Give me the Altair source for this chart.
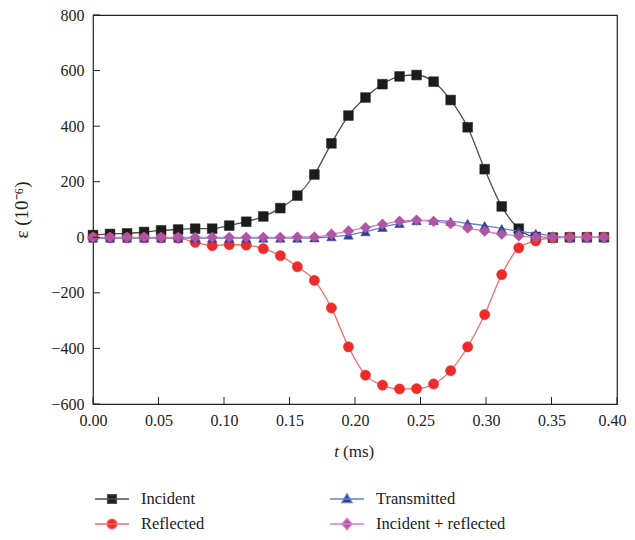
import altair as alt
import pandas as pd

# ---- data ----
t_ms = [0.000, 0.013, 0.026, 0.039, 0.052, 0.065, 0.078, 0.091, 0.104, 0.117,
        0.130, 0.143, 0.156, 0.169, 0.182, 0.195, 0.208, 0.221, 0.234, 0.247,
        0.260, 0.273, 0.286, 0.299, 0.312, 0.325, 0.338, 0.351, 0.364, 0.377, 0.390]

incident = [8, 12, 14, 19, 25, 28, 31, 31, 42, 56,
            75, 105, 150, 226, 338, 438, 503, 551, 579, 584,
            560, 494, 396, 245, 111, 31, 1, -1, 0, 0, 0]

reflected = [-1, -2, -2, -2, -2, -3, -18, -30, -26, -28,
             -41, -66, -106, -155, -254, -394, -496, -532, -546, -545,
             -528, -480, -394, -278, -134, -38, -13, -2, 0, 0, 0]

transmitted = [-3, -3, -3, -3, -3, -3, -3, -3, -3, -3,
               -3, -3, -3, -2, 2, 8, 20, 36, 50, 60,
               61, 57, 50, 42, 31, 22, 14, 5, 0, 0, 0]

inc_plus_ref = [0, 0, 0, 0, 0, 0, 0, 0, 0, 0,
                0, 0, 1, 1, 11, 23, 35, 47, 58, 62,
                57, 49, 33, 22, 11, 5, 0, 0, 0, 0, 0]

series_names = ["Incident", "Reflected", "Transmitted", "Incident + reflected"]
series_values = [incident, reflected, transmitted, inc_plus_ref]
line_colors = ["#4d4d4d", "#f26b6b", "#6a7ec8", "#d67fcc"]
marker_colors = ["#1c1c1c", "#ee2b2b", "#2f3f9c", "#b055a3"]
marker_shapes = ["square", "circle", "triangle-up", "diamond"]
marker_sizes = [95, 105, 90, 115]

y_ticks = [-600, -400, -200, 0, 200, 400, 600, 800]
x_ticks = [0.00, 0.05, 0.10, 0.15, 0.20, 0.25, 0.30, 0.35, 0.40]

# legend layout (order fills row by row, two columns)
legend_order = ["Incident", "Transmitted", "Reflected", "Incident + reflected"]
legend_col = [0, 1, 0, 1]
legend_row = [0, 0, 1, 1]
legend_paths = {
    "Incident": "M-1,0H1M-0.26,-0.26H0.26V0.26H-0.26Z",
    "Reflected": "M-1,0H1M0.29,0A0.29,0.29 0 1,1 -0.29,0A0.29,0.29 0 1,1 0.29,0Z",
    "Transmitted": "M-1,0H1M0,-0.31L0.3,0.21H-0.3Z",
    "Incident + reflected": "M-1,0H1M0,-0.34L0.3,0L0,0.34L-0.3,0Z",
}

FONT = "Liberation Serif"
W, H = 524, 389

x_enc = alt.X("t:Q", scale=alt.Scale(domain=[0, 0.4], nice=False, zero=False),
              axis=alt.Axis(values=x_ticks, format=".2f", ticks=False, domain=False,
                            grid=False, labelPadding=8, labelFlush=False, title=None,
                            labelOffset={"condition": {"test": "datum.value >= 0.399",
                                                       "value": -5},
                                         "value": 0}))
y_enc = alt.Y("e:Q", scale=alt.Scale(domain=[-600, 800], nice=False, zero=False),
              axis=alt.Axis(values=y_ticks, ticks=False, domain=False, grid=False,
                            labelPadding=9, labelFlush=False, title="ε (10⁻⁶)",
                            titlePadding=19, titleFontWeight="normal"))

layers = []
for name, vals, lc, mc, shp, sz in zip(series_names, series_values, line_colors,
                                       marker_colors, marker_shapes, marker_sizes):
    d = pd.DataFrame({"t": t_ms, "e": vals, "series": name})
    base = alt.Chart(d).encode(x=x_enc, y=y_enc)
    layers.append(base.mark_line(color=lc, strokeWidth=1.3, interpolate="monotone"))
    layers.append(base.mark_point(shape=shp, filled=True, fill=mc, stroke=mc,
                                  strokeWidth=0.5, opacity=1, size=sz))

# inward ticks
ytick_df = pd.DataFrame({"e": y_ticks})
xtick_df = pd.DataFrame({"t": x_ticks})
layers.append(alt.Chart(ytick_df).mark_rule(color="#222", strokeWidth=1).encode(
    y=y_enc, x=alt.value(0), x2=alt.value(7)))
layers.append(alt.Chart(xtick_df).mark_rule(color="#222", strokeWidth=1).encode(
    x=x_enc, y=alt.value(H), y2=alt.value(H - 7)))

# x axis title: italic t + (ms)
one = pd.DataFrame({"a": [0]})
layers.append(alt.Chart(one).mark_text(text="t", font=FONT, fontSize=17, fontStyle="italic",
                                        align="right", baseline="middle", color="#222")
              .encode(x=alt.value(246), y=alt.value(437)))
layers.append(alt.Chart(one).mark_text(text="(ms)", font=FONT, fontSize=17,
                                        align="left", baseline="middle", color="#222")
              .encode(x=alt.value(250), y=alt.value(437)))

main = alt.layer(*layers)

# legend
leg_df = pd.DataFrame({"series": legend_order, "col": legend_col, "row": legend_row})
lx = alt.X("col:Q", scale=alt.Scale(domain=[0, 1], range=[19, 254]), axis=None)
ly = alt.Y("row:Q", scale=alt.Scale(domain=[0, 1], range=[484, 509]), axis=None)
leg_base = alt.Chart(leg_df).encode(x=lx, y=ly)
leg_sym = leg_base.mark_point(filled=True, opacity=1, size=1150, strokeWidth=1.3).encode(
    shape=alt.Shape("series:N", scale=alt.Scale(domain=series_names,
                                                range=[legend_paths[n] for n in series_names]),
                    legend=None),
    fill=alt.Fill("series:N", scale=alt.Scale(domain=series_names, range=marker_colors),
                  legend=None),
    stroke=alt.Stroke("series:N", scale=alt.Scale(domain=series_names, range=line_colors),
                      legend=None),
)
leg_txt = leg_base.mark_text(align="left", baseline="middle", dx=29, font=FONT,
                             fontSize=16.5, color="#222").encode(text="series:N")
legend = alt.layer(leg_sym, leg_txt)

chart = alt.layer(main, legend).resolve_scale(
    x="independent", y="independent"
).properties(
    width=W, height=H,
    autosize=alt.AutoSizeParams(type="none"),
    padding={"left": 85, "top": 7, "right": 10, "bottom": 128},
    background="white",
).configure_view(
    stroke="#222", strokeWidth=1.2
).configure_axis(
    labelFont=FONT, labelFontSize=16, labelColor="#222",
    titleFont=FONT, titleFontSize=19, titleColor="#222",
)

chart.save("out.html", embed_options={"renderer": "svg", "actions": False})
